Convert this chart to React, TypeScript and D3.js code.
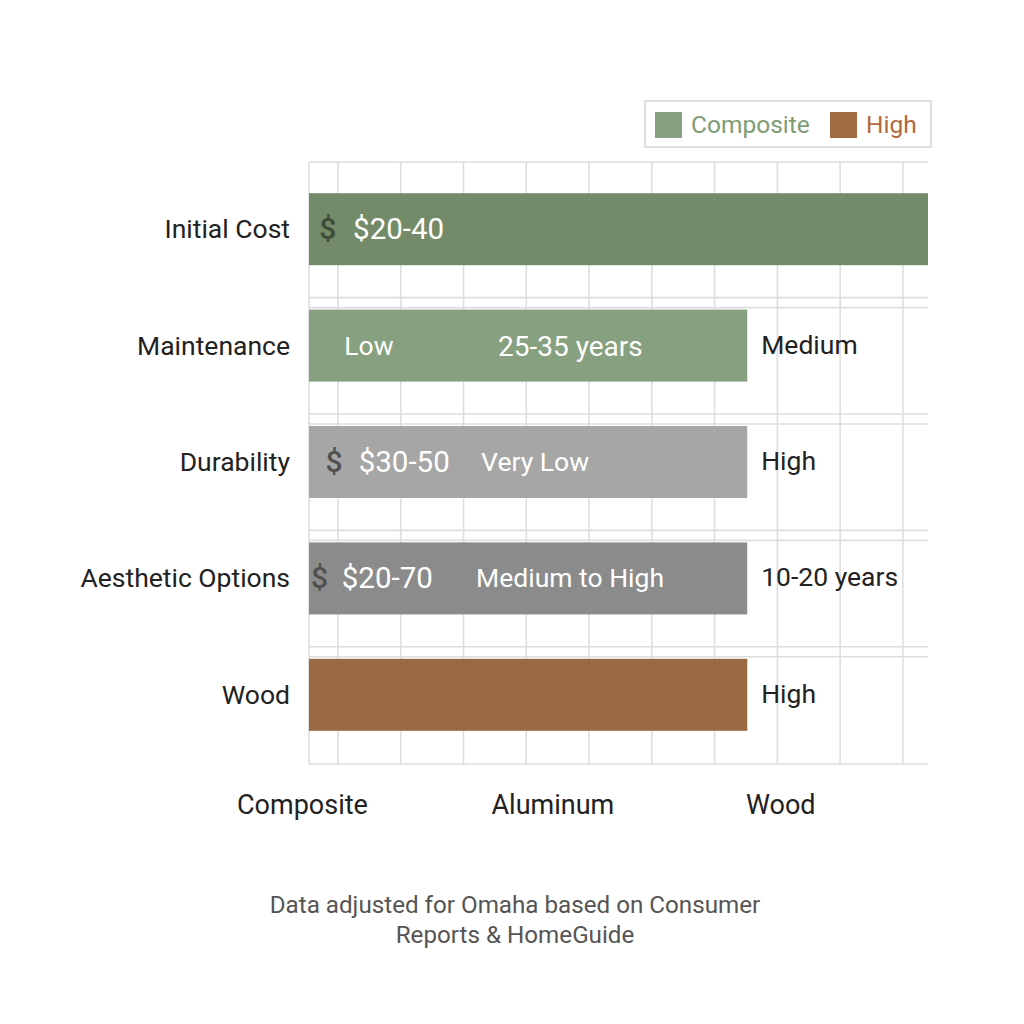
import React from "react";
import * as d3 from "d3";

const categories = ["Initial Cost", "Maintenance", "Durability", "Aesthetic Options", "Wood"];
const barValues = [9.4, 6.52, 6.52, 6.52, 6.52];
const barColors = ["#738b69", "#87a07f", "#a6a6a6", "#8b8b8b", "#996a41"];
const rightLabels = ["", "Medium", "High", "10-20 years", "High"];
const bottomLabels = ["Composite", "Aluminum", "Wood"];
const gridTicks = [0, 1, 2, 3, 4, 5, 6, 7, 8, 9];
const footnote = ["Data adjusted for Omaha based on Consumer", "Reports & HomeGuide"];
const legendItems = [
  { label: "Composite", swatch: "#87a07f", text: "#7e9c74" },
  { label: "High", swatch: "#a06a42", text: "#b0693a" },
];
// in-bar annotations: row index, text, x position in data units, kind
const inBarNotes = [
  { row: 0, text: "$", x: -0.3, kind: "icon" },
  { row: 0, text: "$20-40", x: 0.24, kind: "price" },
  { row: 1, text: "Low", x: 0.1, kind: "text" },
  { row: 1, text: "25-35 years", x: 2.55, kind: "num" },
  { row: 2, text: "$", x: -0.2, kind: "icon" },
  { row: 2, text: "$30-50", x: 0.33, kind: "price" },
  { row: 2, text: "Very Low", x: 2.28, kind: "text" },
  { row: 3, text: "$", x: -0.43, kind: "icon" },
  { row: 3, text: "$20-70", x: 0.06, kind: "price" },
  { row: 3, text: "Medium to High", x: 2.2, kind: "text" },
];

const FONT = "Roboto, 'Noto Sans', sans-serif";

export default function App() {
  const plotLeft = 309;
  const plotRight = 928;
  const plotTop = 162;
  const plotBottom = 764;
  const x = d3.scaleLinear().domain([-0.462, 9.4]).range([plotLeft, plotRight]);
  const y = d3.scaleBand<string>().domain(categories).range([171, 753]).padding(0);
  const cy = (c: string) => (y(c) as number) + y.bandwidth() / 2;
  const barH = 72;
  const bx = d3.scalePoint<string>().domain(bottomLabels).range([237, 746]);

  const hLines: number[] = [plotTop, plotBottom];
  categories.slice(1).forEach((c) => {
    hLines.push(cy(c) - 48);
    hLines.push(cy(c) - 38);
  });

  const noteSize = (k: string) =>
    k === "icon" ? 30 : k === "price" ? 29.5 : k === "num" ? 28 : 26.5;

  return (
    <svg
      width={1024}
      height={1024}
      style={{ position: "absolute", left: 0, top: 0, background: "#ffffff" }}
      fontFamily={FONT}
    >
      <rect x={0} y={0} width={1024} height={1024} fill="#ffffff" />
      {/* grid */}
      <g stroke="#dedede" strokeWidth={1.6}>
        {hLines.map((yy, i) => (
          <line key={"h" + i} x1={plotLeft} x2={plotRight} y1={yy} y2={yy} />
        ))}
        <line x1={plotLeft} x2={plotLeft} y1={plotTop} y2={plotBottom} />
        {gridTicks.map((t) => (
          <line key={"v" + t} x1={x(t)} x2={x(t)} y1={plotTop} y2={plotBottom} />
        ))}
      </g>
      {/* bars */}
      {categories.map((c, i) => (
        <rect
          key={c}
          x={x(-0.462)}
          y={cy(c) - barH / 2}
          width={x(barValues[i]) - x(-0.462)}
          height={barH}
          fill={barColors[i]}
        />
      ))}
      {/* category labels */}
      {categories.map((c) => (
        <text key={"l" + c} x={290} y={cy(c) + 9} textAnchor="end" fontSize={26.5} fill="#222">
          {c}
        </text>
      ))}
      {/* in-bar notes */}
      {inBarNotes.map((n, i) => (
        <text
          key={"n" + i}
          x={x(n.x)}
          y={cy(categories[n.row]) + (n.kind === "text" ? 9 : 10)}
          fontSize={noteSize(n.kind)}
          fontWeight={n.kind === "icon" ? 500 : 400}
          fill={n.kind === "icon" ? (n.row === 0 ? "#3e4c39" : "#505050") : "#ffffff"}
        >
          {n.text}
        </text>
      ))}
      {/* right labels */}
      {categories.map((c, i) =>
        rightLabels[i] ? (
          <text key={"r" + c} x={x(barValues[i]) + 14} y={cy(c) + 8} fontSize={26.5} fill="#222">
            {rightLabels[i]}
          </text>
        ) : null
      )}
      {/* bottom labels */}
      {bottomLabels.map((b) => (
        <text key={"b" + b} x={bx(b)} y={814} fontSize={27} fill="#222">
          {b}
        </text>
      ))}
      {/* legend */}
      <rect x={645} y={101} width={286} height={46} fill="#ffffff" stroke="#d6d6d6" strokeWidth={1.5} />
      <rect x={655} y={112} width={27} height={26} fill={legendItems[0].swatch} />
      <text x={691} y={133} fontSize={24.5} fill={legendItems[0].text}>
        {legendItems[0].label}
      </text>
      <rect x={830} y={112} width={27} height={26} fill={legendItems[1].swatch} />
      <text x={866} y={133} fontSize={24.5} fill={legendItems[1].text}>
        {legendItems[1].label}
      </text>
      {/* footnote */}
      {footnote.map((f, i) => (
        <text key={"f" + i} x={515} y={913 + i * 30} textAnchor="middle" fontSize={24.2} fill="#555">
          {f}
        </text>
      ))}
    </svg>
  );
}
